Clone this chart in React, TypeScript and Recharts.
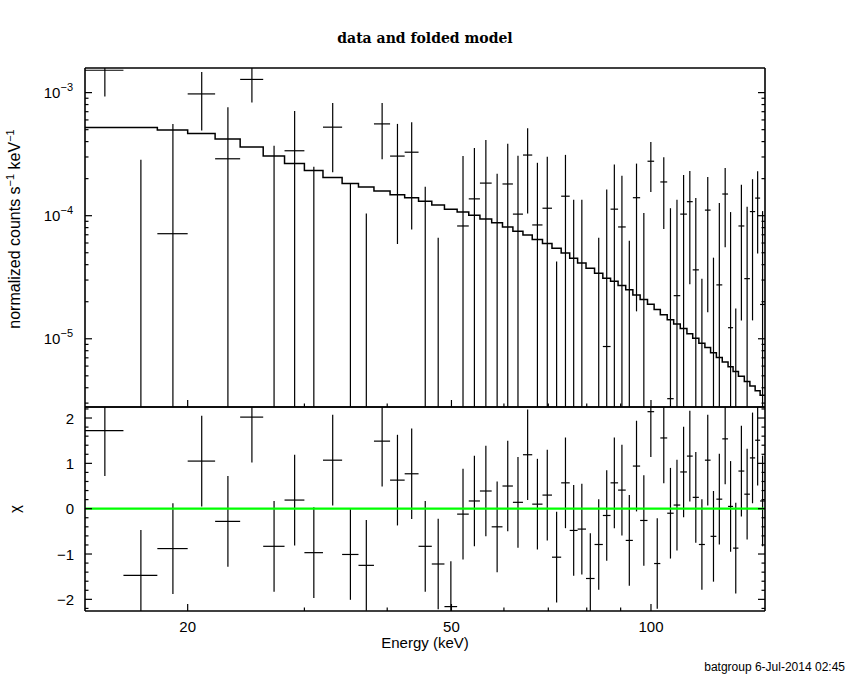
import React from 'react';
import { ComposedChart, Scatter, Line, XAxis, YAxis, ErrorBar, ReferenceLine } from 'recharts';

// ---------- data ----------
// energy bin edges (keV)
const binEdges = [
  14, 16, 18, 20, 22, 24, 26, 28, 30, 32,
  34.2, 36.2, 38.2, 40.4, 42.5, 44.6, 46.7, 48.8, 51, 53.1,
  55.2, 57.5, 59.7, 61.9, 64.1, 66.2, 68.6, 70.9, 73.2, 75.4,
  77.5, 79.8, 82.2, 84.6, 86.9, 89.2, 91.6, 93.9, 96.3, 98.8,
  101.1, 103.3, 105.8, 108.2, 110.7, 113.3, 115.6, 118.1, 120.6, 123,
  125.5, 128.1, 130.7, 133, 135.5, 138.3, 141, 143.6, 146.1, 148.6,
];

// folded model (counts s^-1 keV^-1) per bin
const modelRate = [
  5.2e-4, 5.2e-4, 4.96e-4, 4.65e-4, 4.19e-4, 3.61e-4, 3.05e-4, 2.66e-4, 2.33e-4, 2.04e-4,
  1.83e-4, 1.71e-4, 1.59e-4, 1.48e-4, 1.40e-4, 1.31e-4, 1.22e-4, 1.13e-4, 1.07e-4, 1.01e-4,
  9.4e-5, 8.77e-5, 8.1e-5, 7.46e-5, 6.97e-5, 6.42e-5, 5.93e-5, 5.43e-5, 4.98e-5, 4.5e-5,
  4.13e-5, 3.74e-5, 3.4e-5, 3.1e-5, 2.93e-5, 2.71e-5, 2.5e-5, 2.27e-5, 2.08e-5, 1.91e-5,
  1.73e-5, 1.57e-5, 1.43e-5, 1.32e-5, 1.21e-5, 1.1e-5, 1.01e-5, 9.21e-6, 8.5e-6, 7.7e-6,
  7.05e-6, 6.46e-6, 5.93e-6, 5.43e-6, 4.97e-6, 4.5e-6, 4.13e-6, 3.79e-6, 3.47e-6,
];

// measured rate per bin (null = below the plotted range)
const dataRate = [
  1.52e-3, null, 7.14e-5, 9.76e-4, 2.9e-4, 1.28e-3, null, 3.37e-4, null, 5.24e-4,
  null, null, 5.57e-4, 3.05e-4, 3.28e-4, null, null, null, 8.25e-5, 1.37e-4,
  1.84e-4, null, 1.81e-4, 1.03e-4, 3.11e-4, 8.41e-5, 1.15e-4, null, 1.44e-4, null,
  null, null, null, 8.65e-6, 1.13e-4, 8.1e-5, null, 1.4e-4, null, 2.77e-4,
  null, 1.88e-4, 3.26e-6, 2.24e-5, 1.03e-4, 1.3e-4, 3.63e-5, null, 1.11e-4, null,
  2.74e-5, 1.5e-4, 1.23e-5, null, 8.25e-5, 3.08e-5, 1.08e-4, 1.39e-4, 1.9e-5,
];

// upper end of the 1-sigma error (null = not visible)
const dataUpper = [
  2.1e-3, 2.85e-4, 5.57e-4, 1.47e-3, 7.61e-4, 1.74e-3, 3.7e-4, 7.1e-4, 2.5e-4, 8.25e-4,
  1.82e-4, 1.04e-4, 8.25e-4, 5.57e-4, 5.75e-4, 1.72e-4, 6.63e-5, null, 3.06e-4, 3.55e-4,
  4.13e-4, 2.19e-4, 3.84e-4, 3.07e-4, 5.14e-4, 2.69e-4, 3.01e-4, 4.24e-5, 3.12e-4, 1.35e-4,
  1.35e-4, null, 6.63e-5, 1.63e-4, 2.6e-4, 2.11e-4, 6.27e-5, 2.65e-4, 1.05e-4, 3.97e-4,
  null, 2.99e-4, 1.15e-4, 1.35e-4, 2.14e-4, 2.31e-4, 1.39e-4, 3.07e-5, 2.06e-4, 4.56e-5,
  1.27e-4, 2.44e-4, 1.07e-4, 1.76e-5, 1.78e-4, 1.18e-4, 1.98e-4, 2.3e-4, 1.09e-4,
];

// lower end of the 1-sigma error (null = reaches below the plotted range)
const dataLower = [
  9.28e-4, null, null, 4.92e-4, null, 8.3e-4, null, null, null, 2.25e-4,
  null, null, 2.88e-4, 5.89e-5, 7.74e-5, null, null, null, null, null,
  null, null, null, null, 1.04e-4, null, null, null, null, null,
  null, null, null, null, null, null, null, 1.67e-5, null, 1.56e-4,
  null, 7.8e-5, null, null, null, 2.77e-5, null, null, 1.64e-5, null,
  null, 5.53e-5, null, null, 1.41e-5, null, 1.41e-5, 4.92e-5, null,
];

// residuals (chi)
const chiValues = [
  1.72, -1.47, -0.88, 1.05, -0.28, 2.02, -0.83, 0.19, -0.97, 1.07,
  -1.01, -1.25, 1.49, 0.63, 0.77, -0.83, -1.22, -2.16, -0.12, 0.17,
  0.39, -0.4, 0.5, 0.14, 1.19, 0.1, 0.3, -1.07, 0.57, -0.48,
  -0.45, -1.54, -0.79, -0.15, 0.57, 0.41, -0.7, 0.94, -0.26, 2.14,
  -1.21, 1.56, -0.1, 0.08, 0.81, 1.16, 0.25, -0.79, 1.07, -0.61,
  0.21, 1.54, 0.05, -0.87, 0.83, 0.32, 1.12, 1.51, 0.17,
];

// ticks
const xMajorTicks = [20, 50, 100];
const xMinorTicks = [30, 40, 60, 70, 80, 90];
const yTopMajorTicks = [1e-5, 1e-4, 1e-3];
const yTopMinorTicks = [
  3e-6, 4e-6, 5e-6, 6e-6, 7e-6, 8e-6, 9e-6,
  2e-5, 3e-5, 4e-5, 5e-5, 6e-5, 7e-5, 8e-5, 9e-5,
  2e-4, 3e-4, 4e-4, 5e-4, 6e-4, 7e-4, 8e-4, 9e-4,
];
const chiMajorTicks = [-2, -1, 0, 1, 2];
const chiMinorTicks = [
  -2.2, -1.8, -1.6, -1.4, -1.2, -0.8, -0.6, -0.4, -0.2,
  0.2, 0.4, 0.6, 0.8, 1.2, 1.4, 1.6, 1.8, 2.2,
];

const X_DOMAIN: [number, number] = [14, 148.6];
const Y_DOMAIN: [number, number] = [2.79e-6, 1.585e-3];
const CHI_DOMAIN: [number, number] = [-2.257, 2.243];

// ---------- derived tables ----------
const bins = binEdges.slice(0, -1).map((lo, i) => {
  const hi = binEdges[i + 1];
  return { lo, hi, x: (lo + hi) / 2 };
});

const topPoints = bins
  .map((b, i) => {
    const up = dataUpper[i];
    if (up == null) return null;
    const upC = Math.min(up, Y_DOMAIN[1]);
    const v = dataRate[i];
    if (v == null) {
      return { x: b.x, y: Y_DOMAIN[0], ex: [0, 0], ey: [0, upC - Y_DOMAIN[0]] };
    }
    const low = dataLower[i] == null ? Y_DOMAIN[0] : (dataLower[i] as number);
    return { x: b.x, y: v, ex: [b.x - b.lo, b.hi - b.x], ey: [v - low, upC - v] };
  })
  .filter(Boolean) as any[];

const modelSteps = binEdges.map((e, i) => ({
  x: e,
  y: modelRate[Math.min(i, modelRate.length - 1)],
}));

const chiPoints = bins.map((b, i) => {
  const c = chiValues[i];
  return {
    x: b.x,
    y: c,
    ex: [b.x - b.lo, b.hi - b.x],
    ey: [Math.min(1, c - CHI_DOMAIN[0]), Math.min(1, CHI_DOMAIN[1] - c)],
  };
});

// ---------- styling ----------
const SANS = "'Liberation Sans', Arial, Helvetica, sans-serif";
const AXIS_LINE = { stroke: '#000', strokeWidth: 1.6 };
const MAJOR_LEN = 7;
const MINOR_LEN = 3.5;

const isIn = (arr: number[], v: number) => arr.some((t) => Math.abs(t - v) <= Math.abs(t) * 1e-6 + 1e-9);

const makeXTick = (side: 'bottom' | 'top', withLabels: boolean) => (props: any) => {
  const { x, y, payload } = props;
  const v = payload.value;
  const major = isIn(xMajorTicks, v);
  const len = major ? MAJOR_LEN : MINOR_LEN;
  const dir = side === 'bottom' ? -1 : 1;
  return (
    <g>
      <line x1={x} x2={x} y1={y} y2={y + dir * len} stroke="#000" strokeWidth={1.2} />
      {withLabels && major ? (
        <text x={x} y={y + 21} textAnchor="middle" fontFamily={SANS} fontSize={15} fill="#000">
          {v}
        </text>
      ) : null}
    </g>
  );
};

const makeYTick = (
  side: 'left' | 'right',
  majors: number[],
  labelKind: 'none' | 'pow' | 'lin'
) => (props: any) => {
  const { x, y, payload } = props;
  const v = payload.value;
  const major = isIn(majors, v);
  const len = major ? MAJOR_LEN : MINOR_LEN;
  const dir = side === 'left' ? 1 : -1;
  let label: React.ReactNode = null;
  if (major && labelKind === 'pow') {
    const exp = Math.round(Math.log10(v));
    label = (
      <text x={x - 12} y={y + 5} textAnchor="end" fontFamily={SANS} fontSize={15} fill="#000">
        10
        <tspan dy={-7} fontSize={11}>{'\u2212' + Math.abs(exp)}</tspan>
      </text>
    );
  } else if (major && labelKind === 'lin') {
    const txt = v < 0 ? '\u2212' + Math.abs(v) : String(v);
    label = (
      <text x={x - 11} y={y + 5.5} textAnchor="end" fontFamily={SANS} fontSize={15} fill="#000">
        {txt}
      </text>
    );
  }
  return (
    <g>
      <line x1={x} x2={x + dir * len} y1={y} y2={y} stroke="#000" strokeWidth={1.2} />
      {label}
    </g>
  );
};

const NoShape = () => <g />;

const xTicksAll = [...xMajorTicks, ...xMinorTicks].sort((a, b) => a - b);
const yTopTicksAll = [...yTopMajorTicks, ...yTopMinorTicks].sort((a, b) => a - b);
const chiTicksAll = [...chiMajorTicks, ...chiMinorTicks].sort((a, b) => a - b);

const commonX = {
  type: 'number' as const,
  scale: 'log' as const,
  domain: X_DOMAIN,
  allowDataOverflow: true,
  ticks: xTicksAll,
  interval: 0 as const,
  height: 1,
  tickSize: 0,
  tickMargin: 0,
  tickLine: false,
  axisLine: AXIS_LINE,
};

export default function App() {
  return (
    <div
      style={{
        position: 'absolute',
        left: 0,
        top: 0,
        width: 850,
        height: 680,
        background: '#fff',
        overflow: 'hidden',
      }}
    >
      {/* upper panel: data and folded model */}
      <div style={{ position: 'absolute', left: 0, top: 0 }}>
        <ComposedChart
          width={850}
          height={420}
          margin={{ top: 67, right: 84, bottom: 12, left: 84 }}
        >
          <XAxis xAxisId="b" dataKey="x" {...commonX} tick={makeXTick('bottom', false)} />
          <XAxis xAxisId="t" orientation="top" {...commonX} tick={makeXTick('top', false)} />
          <YAxis
            yAxisId="l"
            dataKey="y"
            type="number"
            scale="log"
            domain={Y_DOMAIN}
            allowDataOverflow
            ticks={yTopTicksAll}
            interval={0}
            width={1}
            tickSize={0}
            tickMargin={0}
            tickLine={false}
            axisLine={AXIS_LINE}
            tick={makeYTick('left', yTopMajorTicks, 'pow')}
          />
          <YAxis
            yAxisId="r"
            orientation="right"
            type="number"
            scale="log"
            domain={Y_DOMAIN}
            allowDataOverflow
            ticks={yTopTicksAll}
            interval={0}
            width={1}
            tickSize={0}
            tickMargin={0}
            tickLine={false}
            axisLine={AXIS_LINE}
            tick={makeYTick('right', yTopMajorTicks, 'none')}
          />
          <Line
            xAxisId="b"
            yAxisId="l"
            data={modelSteps}
            dataKey="y"
            type="stepAfter"
            stroke="#000"
            strokeWidth={1.5}
            dot={false}
            activeDot={false}
            isAnimationActive={false}
          />
          <Scatter
            xAxisId="b"
            yAxisId="l"
            data={topPoints}
            dataKey="y"
            shape={NoShape}
            isAnimationActive={false}
          >
            <ErrorBar dataKey="ex" direction="x" width={0} stroke="#000" strokeWidth={1.2} isAnimationActive={false} />
            <ErrorBar dataKey="ey" direction="y" width={0} stroke="#000" strokeWidth={1.2} isAnimationActive={false} />
          </Scatter>
        </ComposedChart>
      </div>

      {/* lower panel: residuals */}
      <div style={{ position: 'absolute', left: 0, top: 400 }}>
        <ComposedChart
          width={850}
          height={280}
          margin={{ top: 6, right: 84, bottom: 68, left: 84 }}
        >
          <XAxis xAxisId="b" dataKey="x" {...commonX} tick={makeXTick('bottom', true)} />
          <XAxis xAxisId="t" orientation="top" {...commonX} tick={makeXTick('top', false)} />
          <YAxis
            yAxisId="l"
            dataKey="y"
            type="number"
            domain={CHI_DOMAIN}
            allowDataOverflow
            ticks={chiTicksAll}
            interval={0}
            width={1}
            tickSize={0}
            tickMargin={0}
            tickLine={false}
            axisLine={AXIS_LINE}
            tick={makeYTick('left', chiMajorTicks, 'lin')}
          />
          <YAxis
            yAxisId="r"
            orientation="right"
            type="number"
            domain={CHI_DOMAIN}
            allowDataOverflow
            ticks={chiTicksAll}
            interval={0}
            width={1}
            tickSize={0}
            tickMargin={0}
            tickLine={false}
            axisLine={AXIS_LINE}
            tick={makeYTick('right', chiMajorTicks, 'none')}
          />
          <Scatter
            xAxisId="b"
            yAxisId="l"
            data={chiPoints}
            dataKey="y"
            shape={NoShape}
            isAnimationActive={false}
          >
            <ErrorBar dataKey="ex" direction="x" width={0} stroke="#000" strokeWidth={1.2} isAnimationActive={false} />
            <ErrorBar dataKey="ey" direction="y" width={0} stroke="#000" strokeWidth={1.2} isAnimationActive={false} />
          </Scatter>
          <ReferenceLine xAxisId="b" yAxisId="l" y={0} stroke="#00ff00" strokeWidth={2.2} />
        </ComposedChart>
      </div>

      {/* titles */}
      <svg
        width={850}
        height={680}
        style={{ position: 'absolute', left: 0, top: 0, pointerEvents: 'none' }}
      >
        <text
          x={425}
          y={43}
          textAnchor="middle"
          fontFamily="'DejaVu Serif', serif"
          fontWeight="bold"
          fontSize={14}
          fill="#000"
        >
          data and folded model
        </text>
        <text
          x={425}
          y={648}
          textAnchor="middle"
          fontFamily={SANS}
          fontSize={15}
          fill="#000"
        >
          Energy (keV)
        </text>
        <text
          transform="translate(20,229) rotate(-90)"
          textAnchor="middle"
          fontFamily={SANS}
          fontSize={16}
          fill="#000"
        >
          normalized counts s
          <tspan dy={-6} fontSize={11}>{'\u22121'}</tspan>
          <tspan dy={6}>{'  keV'}</tspan>
          <tspan dy={-6} fontSize={11}>{'\u22121'}</tspan>
        </text>
        <text
          transform="translate(20,509) rotate(-90)"
          textAnchor="middle"
          fontFamily={SANS}
          fontSize={15}
          fill="#000"
        >
          {'\u03c7'}
        </text>
        <text
          x={845}
          y={671}
          textAnchor="end"
          fontFamily={SANS}
          fontSize={12}
          fill="#000"
        >
          batgroup  6-Jul-2014 02:45
        </text>
      </svg>
    </div>
  );
}
